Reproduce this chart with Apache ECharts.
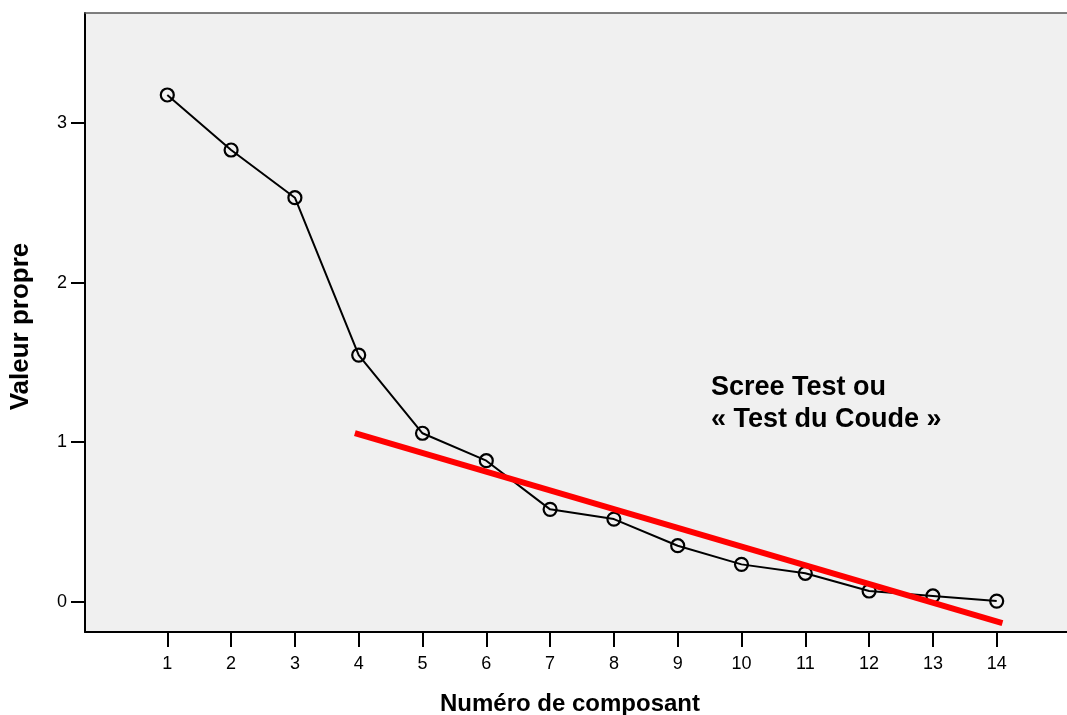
<!DOCTYPE html>
<html>
<head>
<meta charset="utf-8">
<script src="https://cdn.jsdelivr.net/npm/echarts@6/dist/echarts.min.js"></script>
<style>
  html, body { margin: 0; padding: 0; background: #ffffff; }
  #chart { width: 1067px; height: 715px; }
</style>
</head>
<body>
<div id="chart"></div>
<script>
// Scree plot: eigenvalue per component, with a fitted "elbow" line
const components = [1, 2, 3, 4, 5, 6, 7, 8, 9, 10, 11, 12, 13, 14];
const eigenvalues = [3.176, 2.831, 2.532, 1.545, 1.055, 0.883, 0.578, 0.517, 0.350, 0.233, 0.177, 0.066, 0.035, 0.003];
const trendX = [3.94, 14.09];
const trendY = [1.056, -0.135];
const yTicks = [0, 1, 2, 3];
const xName = 'Numéro de composant';
const yName = 'Valeur propre';
const noteText = 'Scree Test ou\n« Test du Coude »';

const font = 'Liberation Sans, Arial, Helvetica, sans-serif';
const X_MIN = -0.29, X_MAX = 15.102;

const chart = echarts.init(document.getElementById('chart'), null, { renderer: 'canvas' });

chart.setOption({
  animation: false,
  backgroundColor: '#ffffff',
  grid: {
    left: 85, top: 13, right: 0, bottom: 83,
    outerBoundsMode: 'none',
    containLabel: false,
    show: true,
    backgroundColor: '#f0f0f0',
    borderWidth: 0
  },
  xAxis: [
    {
      type: 'value',
      min: X_MIN,
      max: X_MAX,
      name: xName,
      nameLocation: 'middle',
      nameGap: 60,
      nameTextStyle: {
        fontFamily: font, fontSize: 24, fontWeight: 'bold', color: '#000',
        padding: [0, 12, 0, 0]
      },
      axisLine: { show: true, onZero: false, lineStyle: { color: '#000', width: 2 } },
      axisTick: { show: true, length: 15, customValues: components, lineStyle: { color: '#000', width: 2 } },
      axisLabel: {
        customValues: components, margin: 23,
        fontFamily: font, fontSize: 18, color: '#000'
      },
      splitLine: { show: false }
    },
    {
      // top frame line of the plot area
      type: 'value',
      position: 'top',
      min: X_MIN,
      max: X_MAX,
      axisLine: { show: true, onZero: false, lineStyle: { color: '#555555', width: 1.5 } },
      axisTick: { show: false },
      axisLabel: { show: false },
      splitLine: { show: false }
    }
  ],
  yAxis: {
    type: 'value',
    min: -0.191,
    max: 3.69,
    name: yName,
    nameLocation: 'middle',
    nameGap: 51,
    nameTextStyle: {
      fontFamily: font, fontSize: 26, fontWeight: 'bold', color: '#000',
      padding: [0, 8, 0, 0]
    },
    axisLine: { show: true, onZero: false, lineStyle: { color: '#000', width: 2 } },
    axisTick: { show: true, length: 14, customValues: yTicks, lineStyle: { color: '#000', width: 2 } },
    axisLabel: {
      customValues: yTicks, margin: 18,
      fontFamily: font, fontSize: 18, color: '#000'
    },
    splitLine: { show: false }
  },
  graphic: [{
    type: 'text',
    left: 711,
    top: 372,
    style: {
      text: noteText,
      fontFamily: font,
      fontSize: 27,
      fontWeight: 'bold',
      lineHeight: 32,
      fill: '#000'
    }
  }],
  series: [
    {
      type: 'line',
      data: components.map((c, i) => [c, eigenvalues[i]]),
      symbol: 'circle',
      symbolSize: 13,
      itemStyle: { color: 'transparent', borderColor: '#000', borderWidth: 2.2 },
      lineStyle: { color: '#000', width: 2 },
      z: 3
    },
    {
      type: 'line',
      data: trendX.map((x, i) => [x, trendY[i]]),
      symbol: 'none',
      lineStyle: { color: '#ff0000', width: 6, cap: 'butt' },
      z: 4
    }
  ]
});
</script>
</body>
</html>
